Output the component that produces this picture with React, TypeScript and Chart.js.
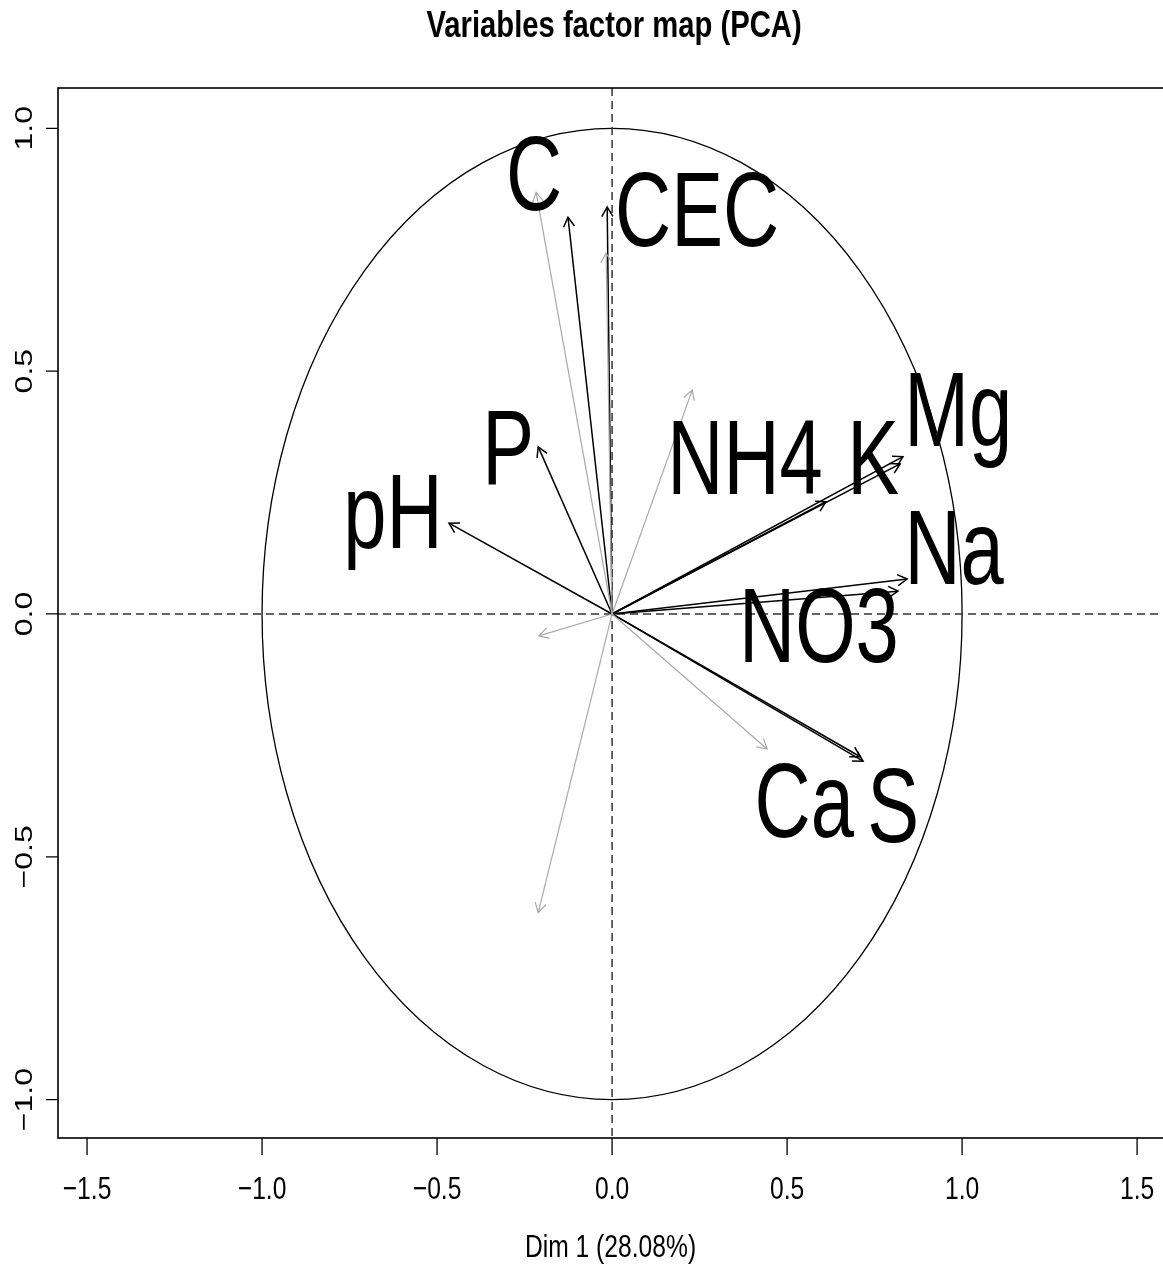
import React, { useEffect, useRef } from "react";
import { Chart, registerables } from "chart.js";

Chart.register(...registerables);

// ---- data ----
const blackVars = ["C", "CEC", "P", "pH", "NH4", "Mg", "K", "Na", "NO3", "Ca", "S"];
const blackX = [-0.126, -0.014, -0.211, -0.466, 0.611, 0.831, 0.823, 0.843, 0.817, 0.709, 0.717];
const blackY = [0.817, 0.838, 0.344, 0.187, 0.231, 0.324, 0.309, 0.072, 0.047, -0.294, -0.303];

const greyX = [-0.217, -0.017, 0.229, -0.209, 0.443, -0.211];
const greyY = [0.868, 0.743, 0.461, -0.045, -0.278, -0.615];

const labelText = ["C", "CEC", "P", "pH", "NH4", "Mg", "K", "Na", "NO3", "Ca", "S"];
const labelX = [-0.223, 0.243, -0.297, -0.626, 0.38, 0.989, 0.746, 0.977, 0.591, 0.549, 0.803];
const labelY = [0.91, 0.836, 0.346, 0.213, 0.325, 0.424, 0.325, 0.14, -0.021, -0.381, -0.393];

const xTicks = [-1.5, -1.0, -0.5, 0.0, 0.5, 1.0, 1.5];
const xTickLabels = ["\u22121.5", "\u22121.0", "\u22120.5", "0.0", "0.5", "1.0", "1.5"];
const yTicks = [-1.0, -0.5, 0.0, 0.5, 1.0];
const yTickLabels = ["\u22121.0", "\u22120.5", "0.0", "0.5", "1.0"];

const titleText = "Variables factor map (PCA)";
const xAxisTitle = "Dim 1 (28.08%)";

const FONT = '"Liberation Sans", Arial, Helvetica, sans-serif';
const SX = 0.75;

function drawText(
  ctx: CanvasRenderingContext2D,
  s: string,
  x: number,
  y: number,
  size: number,
  bold = false,
  rot = false,
  sx = SX
) {
  ctx.save();
  ctx.translate(x, y);
  if (rot) {
    ctx.rotate(-Math.PI / 2);
    ctx.scale(1, sx);
  } else {
    ctx.scale(sx, 1);
  }
  ctx.font = `${bold ? "bold " : ""}${size}px ${FONT}`;
  ctx.fillStyle = "#000";
  ctx.textAlign = "center";
  ctx.textBaseline = "alphabetic";
  ctx.fillText(s, 0, 0.358 * size);
  ctx.restore();
}

const pcaPlugin = {
  id: "pcaDecor",
  beforeDatasetsDraw(chart: any) {
    const ctx: CanvasRenderingContext2D = chart.ctx;
    const xs = chart.scales.x;
    const ys = chart.scales.y;
    const a = chart.chartArea;
    ctx.save();
    // circle
    const cx = xs.getPixelForValue(0);
    const cy = ys.getPixelForValue(0);
    const rx = xs.getPixelForValue(1) - cx;
    const ry = cy - ys.getPixelForValue(1);
    ctx.strokeStyle = "#000";
    ctx.lineWidth = 1.3;
    ctx.beginPath();
    ctx.ellipse(cx, cy, rx, ry, 0, 0, Math.PI * 2);
    ctx.stroke();
    // dashed axes
    ctx.setLineDash([8, 5]);
    ctx.strokeStyle = "#333";
    ctx.lineWidth = 1.5;
    ctx.beginPath();
    ctx.moveTo(cx, a.top);
    ctx.lineTo(cx, a.bottom);
    ctx.moveTo(a.left, cy);
    ctx.lineTo(a.right, cy);
    ctx.stroke();
    ctx.setLineDash([]);
    ctx.restore();
  },
  afterDatasetsDraw(chart: any) {
    const ctx: CanvasRenderingContext2D = chart.ctx;
    const xs = chart.scales.x;
    const ys = chart.scales.y;
    const a = chart.chartArea;
    ctx.save();
    // arrowheads
    chart.data.datasets.forEach((ds: any, i: number) => {
      const meta = chart.getDatasetMeta(i);
      const p0 = meta.data[0];
      const p1 = meta.data[1];
      if (!p0 || !p1) return;
      const ang = Math.atan2(p1.y - p0.y, p1.x - p0.x);
      const L = 11;
      ctx.strokeStyle = ds.borderColor;
      ctx.lineWidth = ds.borderWidth;
      ctx.beginPath();
      ctx.moveTo(p1.x - L * Math.cos(ang - Math.PI / 6), p1.y - L * Math.sin(ang - Math.PI / 6));
      ctx.lineTo(p1.x, p1.y);
      ctx.lineTo(p1.x - L * Math.cos(ang + Math.PI / 6), p1.y - L * Math.sin(ang + Math.PI / 6));
      ctx.stroke();
    });
    // variable labels
    labelText.forEach((t, i) => {
      drawText(ctx, t, xs.getPixelForValue(labelX[i]), ys.getPixelForValue(labelY[i]), 105, false, false, 0.74);
    });
    // box
    ctx.strokeStyle = "#000";
    ctx.lineWidth = 1.6;
    ctx.strokeRect(a.left, a.top, a.right - a.left + 10, a.bottom - a.top);
    // ticks
    ctx.lineWidth = 1.3;
    ctx.beginPath();
    xTicks.forEach((v) => {
      const px = xs.getPixelForValue(v);
      ctx.moveTo(px, a.bottom);
      ctx.lineTo(px, a.bottom + 17);
    });
    yTicks.forEach((v) => {
      const py = ys.getPixelForValue(v);
      ctx.moveTo(a.left, py);
      ctx.lineTo(a.left - 12, py);
    });
    ctx.stroke();
    xTicks.forEach((v, i) => {
      drawText(ctx, xTickLabels[i], xs.getPixelForValue(v), 1188, 32, false, false, 0.77);
    });
    yTicks.forEach((v, i) => {
      drawText(ctx, yTickLabels[i], 23, ys.getPixelForValue(v), 32, false, true, 0.77);
    });
    // axis title and main title
    drawText(ctx, xAxisTitle, (a.left + a.right) / 2, 1246, 32, false, false, 0.77);
    drawText(ctx, titleText, 614, 24, 37, true, false, 0.79);
    ctx.restore();
  },
};

export default function App() {
  const ref = useRef<HTMLCanvasElement | null>(null);
  useEffect(() => {
    document.body.style.margin = "0";
    document.body.style.overflow = "hidden";
    const canvas = ref.current;
    if (!canvas) return;
    const datasets: any[] = [];
    greyX.forEach((x, i) => {
      datasets.push({
        data: [
          { x: 0, y: 0 },
          { x, y: greyY[i] },
        ],
        borderColor: "#a9a9a9",
        borderWidth: 1.2,
        showLine: true,
        pointRadius: 0,
        fill: false,
      });
    });
    blackVars.forEach((name, i) => {
      datasets.push({
        label: name,
        data: [
          { x: 0, y: 0 },
          { x: blackX[i], y: blackY[i] },
        ],
        borderColor: "#000",
        borderWidth: 1.5,
        showLine: true,
        pointRadius: 0,
        fill: false,
      });
    });
    const chart = new Chart(canvas, {
      type: "scatter",
      data: { datasets },
      options: {
        animation: false,
        responsive: false,
        devicePixelRatio: 1,
        layout: { padding: { left: 58, top: 88, right: 0, bottom: 132 } },
        plugins: { legend: { display: false }, tooltip: { enabled: false } },
        scales: {
          x: { type: "linear", min: -1.583, max: 1.574, display: false },
          y: { type: "linear", min: -1.079, max: 1.083, display: false },
        },
      },
      plugins: [pcaPlugin],
    } as any);
    return () => chart.destroy();
  }, []);
  return (
    <div style={{ width: 1163, height: 1270, background: "#fff" }}>
      <canvas ref={ref} width={1163} height={1270} style={{ display: "block" }} />
    </div>
  );
}
